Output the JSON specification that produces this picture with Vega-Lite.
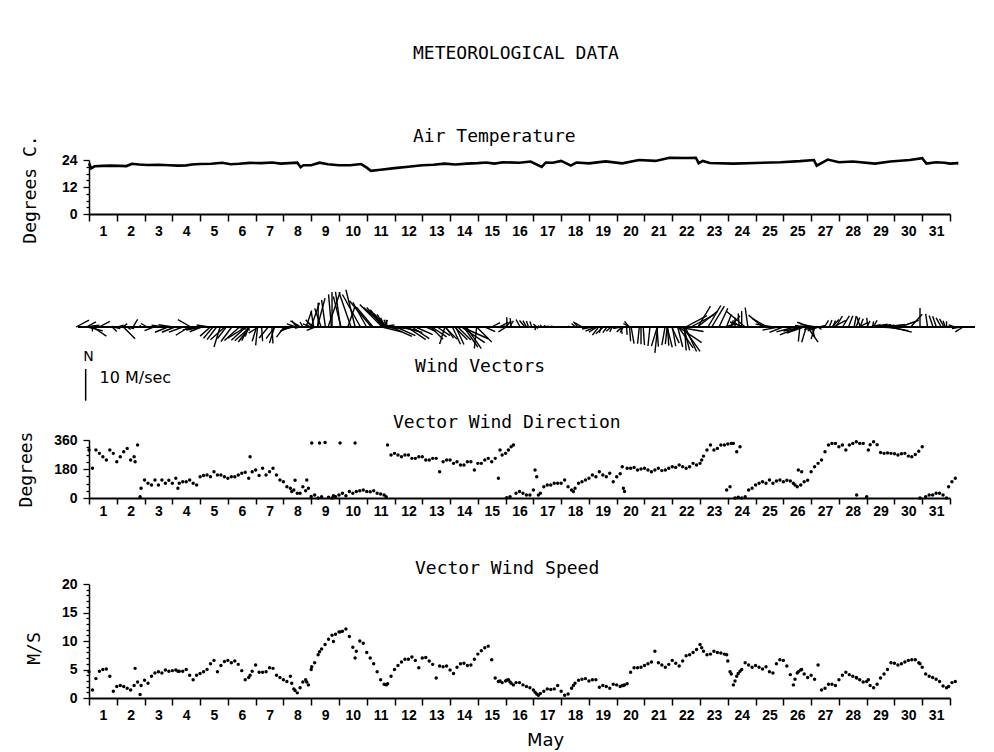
{
  "$schema": "https://vega.github.io/schema/vega-lite/v6.json",
  "background": "white",
  "padding": {"left": 17, "top": 44, "right": 10, "bottom": 2},
  "bounds": "flush",
  "spacing": 86,
  "title": {
    "text": "METEOROLOGICAL DATA",
    "anchor": "start",
    "frame": "group",
    "dx": 324,
    "offset": 65,
    "font": "DejaVu Sans Mono",
    "fontSize": 18,
    "fontWeight": "normal",
    "color": "black"
  },
  "config": {
    "view": {"stroke": null},
    "axis": {
      "grid": false,
      "domainColor": "black",
      "tickColor": "black",
      "labelColor": "black",
      "titleColor": "black",
      "labelFont": "Liberation Sans",
      "labelFontSize": 14,
      "labelFontWeight": "bold",
      "titleFont": "DejaVu Sans Mono",
      "titleFontSize": 18,
      "titleFontWeight": "normal"
    },
    "title": {"font": "DejaVu Sans Mono", "fontSize": 18, "fontWeight": "normal", "color": "black"}
  },
  "datasets": {
    "temp": [
      {"d":1.0,"t":22.5},{"d":1.08,"t":20.3},{"d":1.2,"t":21.2},{"d":1.5,"t":21.4},{"d":1.8,"t":21.5},{"d":2.1,"t":21.4},{"d":2.35,"t":21.3},{"d":2.55,"t":22.3},{"d":2.8,"t":22.0},{"d":3.1,"t":21.8},{"d":3.5,"t":21.9},{"d":3.9,"t":21.7},{"d":4.2,"t":21.5},{"d":4.5,"t":21.6},{"d":4.7,"t":22.0},{"d":5.0,"t":22.2},{"d":5.4,"t":22.3},{"d":5.8,"t":22.8},{"d":6.1,"t":22.1},{"d":6.4,"t":22.3},{"d":6.8,"t":22.7},{"d":7.2,"t":22.6},{"d":7.6,"t":22.9},{"d":7.9,"t":22.4},{"d":8.2,"t":22.6},{"d":8.5,"t":22.8},{"d":8.62,"t":20.8},{"d":8.72,"t":21.7},{"d":9.0,"t":21.7},{"d":9.3,"t":22.8},{"d":9.6,"t":22.1},{"d":10.0,"t":21.7},{"d":10.4,"t":21.7},{"d":10.8,"t":22.2},{"d":11.0,"t":20.6},{"d":11.15,"t":19.2},{"d":11.5,"t":19.7},{"d":12.0,"t":20.4},{"d":12.5,"t":21.0},{"d":13.0,"t":21.7},{"d":13.4,"t":21.9},{"d":13.8,"t":22.4},{"d":14.2,"t":22.0},{"d":14.6,"t":22.4},{"d":15.0,"t":22.6},{"d":15.3,"t":22.9},{"d":15.6,"t":22.4},{"d":15.9,"t":23.0},{"d":16.5,"t":22.8},{"d":16.9,"t":23.3},{"d":17.3,"t":20.9},{"d":17.45,"t":22.9},{"d":17.7,"t":22.8},{"d":18.0,"t":23.6},{"d":18.35,"t":21.5},{"d":18.55,"t":22.9},{"d":19.0,"t":22.5},{"d":19.6,"t":23.4},{"d":20.2,"t":22.5},{"d":20.8,"t":24.0},{"d":21.4,"t":23.6},{"d":21.9,"t":25.0},{"d":22.5,"t":24.9},{"d":22.85,"t":25.0},{"d":22.95,"t":22.6},{"d":23.1,"t":23.6},{"d":23.35,"t":22.7},{"d":24.2,"t":22.4},{"d":25.0,"t":22.7},{"d":25.9,"t":23.0},{"d":26.6,"t":23.5},{"d":27.1,"t":24.0},{"d":27.2,"t":21.5},{"d":27.6,"t":24.2},{"d":28.0,"t":23.0},{"d":28.5,"t":23.3},{"d":29.3,"t":22.4},{"d":29.85,"t":23.3},{"d":30.55,"t":24.0},{"d":31.0,"t":24.8},{"d":31.15,"t":22.4},{"d":31.5,"t":23.0},{"d":31.8,"t":22.8},{"d":32.0,"t":22.4},{"d":32.3,"t":22.6}
    ],
    "wind": [
      {"d":1.0,"a":298,"s":4.6},{"d":1.125,"a":184,"s":1.4},{"d":1.25,"a":298,"s":3.4},{"d":1.375,"a":277,"s":4.7},{"d":1.5,"a":256,"s":5.0},{"d":1.625,"a":236,"s":5.1},{"d":1.75,"a":298,"s":3.8},{"d":1.875,"a":277,"s":1.2},
      {"d":2.0,"a":225,"s":2.0},{"d":2.125,"a":256,"s":2.2},{"d":2.25,"a":287,"s":2.0},{"d":2.375,"a":308,"s":1.7},{"d":2.5,"a":236,"s":1.4},{"d":2.625,"a":256,"s":2.2},{"d":2.66,"a":225,"s":5.2},{"d":2.75,"a":329,"s":2.8},{"d":2.84,"a":8,"s":0.6},{"d":2.875,"a":60,"s":2.2},
      {"d":3.0,"a":112,"s":3.1},{"d":3.125,"a":91,"s":2.6},{"d":3.25,"a":81,"s":3.8},{"d":3.375,"a":112,"s":4.4},{"d":3.5,"a":81,"s":4.6},{"d":3.625,"a":112,"s":4.4},{"d":3.75,"a":91,"s":4.9},{"d":3.875,"a":110,"s":4.7},
      {"d":4.0,"a":91,"s":4.8},{"d":4.125,"a":122,"s":4.9},{"d":4.2,"a":60,"s":4.7},{"d":4.25,"a":91,"s":4.7},{"d":4.375,"a":101,"s":4.7},{"d":4.5,"a":101,"s":5.0},{"d":4.625,"a":112,"s":4.0},{"d":4.75,"a":91,"s":3.2},{"d":4.875,"a":81,"s":4.0},
      {"d":5.0,"a":132,"s":4.3},{"d":5.125,"a":140,"s":4.6},{"d":5.25,"a":143,"s":5.0},{"d":5.375,"a":132,"s":6.0},{"d":5.5,"a":163,"s":6.6},{"d":5.625,"a":143,"s":4.6},{"d":5.75,"a":143,"s":5.7},{"d":5.875,"a":132,"s":6.4},
      {"d":6.0,"a":122,"s":6.6},{"d":6.125,"a":132,"s":6.2},{"d":6.25,"a":132,"s":6.5},{"d":6.375,"a":143,"s":5.9},{"d":6.5,"a":153,"s":4.8},{"d":6.625,"a":160,"s":3.2},{"d":6.75,"a":122,"s":3.6},{"d":6.8,"a":256,"s":4.0},{"d":6.875,"a":163,"s":4.7},
      {"d":7.0,"a":174,"s":5.8},{"d":7.125,"a":140,"s":4.5},{"d":7.25,"a":184,"s":4.5},{"d":7.375,"a":143,"s":4.6},{"d":7.5,"a":163,"s":5.3},{"d":7.625,"a":184,"s":5.2},{"d":7.75,"a":143,"s":4.0},{"d":7.875,"a":112,"s":3.6},
      {"d":8.0,"a":101,"s":3.2},{"d":8.125,"a":70,"s":2.9},{"d":8.25,"a":60,"s":3.8},{"d":8.3,"a":40,"s":2.6},{"d":8.375,"a":50,"s":1.6},{"d":8.42,"a":110,"s":1.3},{"d":8.5,"a":29,"s":0.9},{"d":8.6,"a":29,"s":1.8},{"d":8.7,"a":70,"s":2.8},{"d":8.8,"a":45,"s":3.2},{"d":8.84,"a":112,"s":2.8},{"d":8.9,"a":60,"s":2.3},
      {"d":9.0,"a":9,"s":5.0},{"d":9.02,"a":341,"s":5.5},{"d":9.125,"a":19,"s":6.2},{"d":9.25,"a":0,"s":7.6},{"d":9.3,"a":341,"s":8.1},{"d":9.375,"a":8,"s":8.6},{"d":9.5,"a":345,"s":9.4},{"d":9.625,"a":5,"s":10.3},{"d":9.75,"a":0,"s":11.0},{"d":9.8,"a":14,"s":9.9},{"d":9.875,"a":8,"s":11.2},
      {"d":10.0,"a":19,"s":11.6},{"d":10.04,"a":341,"s":11.6},{"d":10.125,"a":29,"s":11.7},{"d":10.25,"a":14,"s":12.1},{"d":10.375,"a":40,"s":10.8},{"d":10.5,"a":29,"s":8.9},{"d":10.58,"a":341,"s":7.0},{"d":10.625,"a":40,"s":8.2},{"d":10.75,"a":45,"s":10.0},{"d":10.875,"a":50,"s":9.6},
      {"d":11.0,"a":40,"s":8.0},{"d":11.125,"a":39,"s":7.0},{"d":11.25,"a":45,"s":6.0},{"d":11.375,"a":29,"s":4.6},{"d":11.5,"a":25,"s":3.2},{"d":11.625,"a":19,"s":2.4},{"d":11.7,"a":8,"s":2.3},{"d":11.75,"a":329,"s":2.5},{"d":11.875,"a":267,"s":3.8},
      {"d":12.0,"a":277,"s":5.0},{"d":12.125,"a":267,"s":5.7},{"d":12.25,"a":256,"s":6.3},{"d":12.375,"a":267,"s":6.8},{"d":12.5,"a":267,"s":6.8},{"d":12.625,"a":246,"s":7.2},{"d":12.75,"a":246,"s":6.6},{"d":12.875,"a":256,"s":5.3},
      {"d":13.0,"a":256,"s":7.0},{"d":13.125,"a":236,"s":7.1},{"d":13.25,"a":236,"s":6.5},{"d":13.375,"a":246,"s":5.9},{"d":13.5,"a":246,"s":3.5},{"d":13.625,"a":163,"s":5.6},{"d":13.75,"a":225,"s":5.5},{"d":13.875,"a":236,"s":5.6},
      {"d":14.0,"a":236,"s":4.9},{"d":14.125,"a":215,"s":4.3},{"d":14.25,"a":225,"s":5.4},{"d":14.375,"a":205,"s":6.0},{"d":14.5,"a":205,"s":6.1},{"d":14.625,"a":225,"s":5.7},{"d":14.75,"a":225,"s":5.8},{"d":14.875,"a":174,"s":6.8},
      {"d":15.0,"a":215,"s":7.7},{"d":15.125,"a":215,"s":8.3},{"d":15.25,"a":236,"s":8.8},{"d":15.375,"a":246,"s":9.1},{"d":15.5,"a":225,"s":6.7},{"d":15.625,"a":246,"s":3.5},{"d":15.74,"a":122,"s":2.9},{"d":15.8,"a":298,"s":3.0},{"d":15.875,"a":267,"s":2.7},
      {"d":16.0,"a":277,"s":3.0},{"d":16.04,"a":2,"s":3.1},{"d":16.1,"a":298,"s":3.2},{"d":16.16,"a":8,"s":2.8},{"d":16.2,"a":318,"s":2.6},{"d":16.28,"a":329,"s":2.3},{"d":16.375,"a":29,"s":2.7},{"d":16.5,"a":40,"s":2.7},{"d":16.625,"a":29,"s":2.3},{"d":16.75,"a":19,"s":2.0},{"d":16.875,"a":19,"s":1.8},
      {"d":17.0,"a":50,"s":1.4},{"d":17.06,"a":174,"s":1.0},{"d":17.12,"a":132,"s":0.7},{"d":17.18,"a":19,"s":0.5},{"d":17.25,"a":29,"s":0.8},{"d":17.375,"a":70,"s":1.2},{"d":17.5,"a":81,"s":1.6},{"d":17.625,"a":81,"s":1.5},{"d":17.75,"a":91,"s":1.6},{"d":17.875,"a":91,"s":2.2},
      {"d":18.0,"a":91,"s":1.2},{"d":18.125,"a":112,"s":0.5},{"d":18.25,"a":70,"s":0.7},{"d":18.375,"a":50,"s":1.7},{"d":18.44,"a":40,"s":2.2},{"d":18.5,"a":60,"s":2.6},{"d":18.625,"a":91,"s":3.1},{"d":18.75,"a":101,"s":3.3},{"d":18.875,"a":112,"s":3.4},
      {"d":19.0,"a":122,"s":3.0},{"d":19.125,"a":143,"s":3.2},{"d":19.25,"a":132,"s":3.2},{"d":19.375,"a":163,"s":1.9},{"d":19.5,"a":143,"s":2.2},{"d":19.625,"a":132,"s":2.0},{"d":19.75,"a":153,"s":1.7},{"d":19.875,"a":101,"s":2.4},
      {"d":20.0,"a":132,"s":2.3},{"d":20.125,"a":150,"s":2.0},{"d":20.2,"a":194,"s":2.2},{"d":20.24,"a":60,"s":2.2},{"d":20.28,"a":40,"s":2.3},{"d":20.375,"a":184,"s":2.5},{"d":20.5,"a":184,"s":4.5},{"d":20.625,"a":190,"s":5.3},{"d":20.75,"a":174,"s":5.3},{"d":20.875,"a":180,"s":5.4},
      {"d":21.0,"a":184,"s":5.7},{"d":21.125,"a":174,"s":6.0},{"d":21.25,"a":163,"s":6.3},{"d":21.375,"a":174,"s":8.2},{"d":21.5,"a":184,"s":6.2},{"d":21.625,"a":170,"s":5.8},{"d":21.75,"a":174,"s":5.4},{"d":21.875,"a":184,"s":5.9},
      {"d":22.0,"a":194,"s":6.6},{"d":22.125,"a":190,"s":6.1},{"d":22.25,"a":205,"s":5.6},{"d":22.375,"a":194,"s":6.5},{"d":22.5,"a":184,"s":7.4},{"d":22.625,"a":194,"s":7.6},{"d":22.75,"a":215,"s":8.0},{"d":22.875,"a":205,"s":8.5},
      {"d":23.0,"a":215,"s":9.4},{"d":23.06,"a":236,"s":8.8},{"d":23.125,"a":260,"s":8.2},{"d":23.25,"a":298,"s":7.6},{"d":23.375,"a":329,"s":7.7},{"d":23.5,"a":298,"s":8.2},{"d":23.625,"a":308,"s":8.0},{"d":23.75,"a":329,"s":7.9},{"d":23.875,"a":329,"s":7.7},{"d":23.96,"a":50,"s":7.6},
      {"d":24.0,"a":335,"s":6.5},{"d":24.08,"a":70,"s":4.6},{"d":24.125,"a":339,"s":4.2},{"d":24.2,"a":339,"s":2.3},{"d":24.26,"a":0,"s":3.0},{"d":24.32,"a":287,"s":3.8},{"d":24.375,"a":4,"s":4.3},{"d":24.44,"a":318,"s":4.7},{"d":24.5,"a":0,"s":5.0},{"d":24.625,"a":8,"s":6.2},{"d":24.75,"a":50,"s":5.8},{"d":24.875,"a":60,"s":5.4},
      {"d":25.0,"a":81,"s":5.7},{"d":25.125,"a":91,"s":5.4},{"d":25.25,"a":101,"s":5.1},{"d":25.375,"a":91,"s":5.5},{"d":25.5,"a":112,"s":4.6},{"d":25.625,"a":91,"s":4.4},{"d":25.75,"a":105,"s":6.0},{"d":25.875,"a":112,"s":6.7},
      {"d":26.0,"a":101,"s":6.6},{"d":26.125,"a":110,"s":5.6},{"d":26.25,"a":105,"s":4.1},{"d":26.36,"a":91,"s":2.3},{"d":26.42,"a":81,"s":3.3},{"d":26.5,"a":70,"s":4.4},{"d":26.54,"a":174,"s":4.6},{"d":26.625,"a":81,"s":4.9},{"d":26.66,"a":163,"s":5.0},{"d":26.75,"a":101,"s":4.2},{"d":26.875,"a":110,"s":3.6},
      {"d":27.0,"a":163,"s":4.0},{"d":27.125,"a":194,"s":3.3},{"d":27.25,"a":215,"s":5.8},{"d":27.375,"a":236,"s":1.4},{"d":27.5,"a":287,"s":1.7},{"d":27.625,"a":329,"s":2.4},{"d":27.75,"a":339,"s":2.4},{"d":27.875,"a":339,"s":2.2},
      {"d":28.0,"a":318,"s":3.2},{"d":28.125,"a":329,"s":4.0},{"d":28.25,"a":298,"s":4.5},{"d":28.375,"a":329,"s":4.1},{"d":28.5,"a":339,"s":3.8},{"d":28.625,"a":349,"s":3.6},{"d":28.64,"a":19,"s":3.5},{"d":28.75,"a":339,"s":3.2},{"d":28.875,"a":339,"s":2.8},
      {"d":29.0,"a":8,"s":2.9},{"d":29.06,"a":298,"s":3.2},{"d":29.125,"a":330,"s":2.2},{"d":29.25,"a":349,"s":1.8},{"d":29.375,"a":330,"s":2.4},{"d":29.5,"a":282,"s":3.5},{"d":29.625,"a":277,"s":4.2},{"d":29.75,"a":280,"s":5.0},{"d":29.875,"a":277,"s":6.2},
      {"d":30.0,"a":275,"s":6.1},{"d":30.125,"a":267,"s":5.8},{"d":30.25,"a":275,"s":6.0},{"d":30.375,"a":277,"s":6.3},{"d":30.5,"a":260,"s":6.6},{"d":30.625,"a":256,"s":6.7},{"d":30.75,"a":270,"s":6.7},{"d":30.875,"a":290,"s":6.2},{"d":30.92,"a":0,"s":6.0},
      {"d":31.0,"a":318,"s":5.4},{"d":31.125,"a":8,"s":4.2},{"d":31.25,"a":19,"s":3.8},{"d":31.375,"a":19,"s":3.6},{"d":31.5,"a":29,"s":3.3},{"d":31.625,"a":29,"s":2.9},{"d":31.75,"a":19,"s":2.1},{"d":31.875,"a":0,"s":1.8},
      {"d":31.95,"a":70,"s":2.0},{"d":32.07,"a":101,"s":2.7},{"d":32.19,"a":122,"s":2.9}
    ]
  },
  "vconcat": [
    {
      "width": 861,
      "height": 54,
      "title": {"text": "Air Temperature", "anchor": "start", "frame": "group", "dx": 324, "offset": -11},
      "data": {"name": "temp"},
      "mark": {"type": "line", "color": "black", "strokeWidth": 2.6},
      "encoding": {
        "x": {
          "field": "d", "type": "quantitative",
          "scale": {"domain": [1, 32], "nice": false, "zero": false},
          "axis": {
            "title": null,
            "values": [1,2,3,4,5,6,7,8,9,10,11,12,13,14,15,16,17,18,19,20,21,22,23,24,25,26,27,28,29,30,31,32],
            "format": "d",
            "labelExpr": "datum.value > 31 ? '' : (datum.value == 26 ? '25' : datum.label)",
            "labelOffset": 13.9,
            "labelOverlap": false,
            "labelFlush": false,
            "labelBound": false,
            "tickSize": 7,
            "tickWidth": 1.5,
            "domainWidth": 2,
            "labelPadding": 3
          }
        },
        "y": {
          "field": "t", "type": "quantitative",
          "scale": {"domain": [0, 24], "nice": false},
          "axis": {
            "title": "Degrees C.",
            "values": [0,3,6,9,12,15,18,21,24],
            "labelExpr": "datum.value % 12 === 0 ? datum.label : ''",
            "tickSize": {"condition": {"test": "datum.value % 12 === 0", "value": 6}, "value": 3},
            "tickWidth": 1.3,
            "domainWidth": 1.5,
            "labelPadding": 6,
            "titleX": -59,
            "titleY": 29,
            "titleAngle": -90,
            "titleAlign": "center",
            "titleBaseline": "middle"
          }
        }
      }
    },
    {
      "width": 861,
      "height": 54,
      "layer": [
        {
          "data": {"name": "wind"},
          "transform": [
            {"calculate": "datum.d + 0.1145 * datum.s * sin(datum.a * PI / 180)", "as": "e"},
            {"calculate": "datum.s * cos(datum.a * PI / 180)", "as": "v"}
          ],
          "mark": {"type": "rule", "color": "black", "strokeWidth": 1.4},
          "encoding": {
            "x": {"field": "d", "type": "quantitative", "scale": {"domain": [1, 32], "nice": false, "zero": false}, "axis": null},
            "x2": {"field": "e"},
            "y": {"field": "v", "type": "quantitative", "scale": {"domain": [-8.5, 8.5], "nice": false}, "axis": null},
            "y2": {"datum": 0}
          }
        },
        {
          "data": {"values": [{}]},
          "mark": {"type": "rule", "color": "black", "strokeWidth": 2},
          "encoding": {
            "x": {"datum": 0.6, "type": "quantitative"},
            "x2": {"datum": 32.9},
            "y": {"datum": 0, "type": "quantitative"}
          }
        },
        {
          "data": {"values": [{}]},
          "mark": {"type": "rule", "color": "black", "strokeWidth": 1.5},
          "encoding": {
            "x": {"datum": 0.88, "type": "quantitative"},
            "y": {"datum": -13.2, "type": "quantitative"},
            "y2": {"datum": -23.2}
          }
        },
        {
          "data": {"values": [{}]},
          "mark": {"type": "text", "text": "N", "font": "DejaVu Sans", "fontSize": 14, "color": "black", "align": "center", "baseline": "middle"},
          "encoding": {
            "x": {"datum": 0.98, "type": "quantitative"},
            "y": {"datum": -9.4, "type": "quantitative"}
          }
        },
        {
          "data": {"values": [{}]},
          "mark": {"type": "text", "text": "10 M/sec", "font": "DejaVu Sans", "fontSize": 16, "color": "black", "align": "left", "baseline": "middle"},
          "encoding": {
            "x": {"datum": 1.38, "type": "quantitative"},
            "y": {"datum": -16, "type": "quantitative"}
          }
        },
        {
          "data": {"values": [{}]},
          "mark": {"type": "text", "text": "Wind Vectors", "font": "DejaVu Sans Mono", "fontSize": 18, "color": "black", "align": "left", "baseline": "middle"},
          "encoding": {
            "x": {"datum": 12.74, "type": "quantitative"},
            "y": {"datum": -12.6, "type": "quantitative"}
          }
        }
      ]
    },
    {
      "width": 861,
      "height": 58,
      "title": {"text": "Vector Wind Direction", "anchor": "start", "frame": "group", "dx": 304, "offset": -1},
      "data": {"name": "wind"},
      "mark": {"type": "circle", "color": "black", "size": 12, "opacity": 1},
      "encoding": {
        "x": {
          "field": "d", "type": "quantitative",
          "scale": {"domain": [1, 32], "nice": false, "zero": false},
          "axis": {
            "title": null,
            "values": [1,2,3,4,5,6,7,8,9,10,11,12,13,14,15,16,17,18,19,20,21,22,23,24,25,26,27,28,29,30,31,32],
            "format": "d",
            "labelExpr": "datum.value > 31 ? '' : datum.label",
            "labelOffset": 13.9,
            "labelOverlap": false,
            "labelFlush": false,
            "labelBound": false,
            "tickSize": 6,
            "tickWidth": 1.5,
            "domainWidth": 2,
            "labelPadding": 0
          }
        },
        "y": {
          "field": "a", "type": "quantitative",
          "scale": {"domain": [0, 360], "nice": false},
          "axis": {
            "title": "Degrees",
            "values": [0,45,90,135,180,225,270,315,360],
            "labelExpr": "datum.value % 180 === 0 ? datum.label : ''",
            "tickSize": {"condition": {"test": "datum.value % 180 === 0", "value": 6}, "value": 3},
            "tickWidth": 1.3,
            "domainWidth": 1.5,
            "labelPadding": 6,
            "titleX": -63,
            "titleY": 29,
            "titleAngle": -90,
            "titleAlign": "center",
            "titleBaseline": "middle"
          }
        }
      }
    },
    {
      "width": 861,
      "height": 114,
      "title": {"text": "Vector Wind Speed", "anchor": "start", "frame": "group", "dx": 326, "offset": -1},
      "data": {"name": "wind"},
      "mark": {"type": "circle", "color": "black", "size": 12, "opacity": 1},
      "encoding": {
        "x": {
          "field": "d", "type": "quantitative",
          "scale": {"domain": [1, 32], "nice": false, "zero": false},
          "axis": {
            "title": "May",
            "titleFont": "DejaVu Sans",
            "titleFontSize": 18,
            "titleX": 456,
            "titleY": 42,
            "titleAlign": "center",
            "titleBaseline": "middle",
            "values": [1,2,3,4,5,6,7,8,9,10,11,12,13,14,15,16,17,18,19,20,21,22,23,24,25,26,27,28,29,30,31,32],
            "format": "d",
            "labelExpr": "datum.value > 31 ? '' : datum.label",
            "labelOffset": 13.9,
            "labelOverlap": false,
            "labelFlush": false,
            "labelBound": false,
            "tickSize": 7,
            "tickWidth": 1.5,
            "domainWidth": 2,
            "labelPadding": 3
          }
        },
        "y": {
          "field": "s", "type": "quantitative",
          "scale": {"domain": [0, 20], "nice": false},
          "axis": {
            "title": "M/S",
            "values": [0,1,2,3,4,5,6,7,8,9,10,11,12,13,14,15,16,17,18,19,20],
            "labelExpr": "datum.value % 5 === 0 ? datum.label : ''",
            "tickSize": {"condition": {"test": "datum.value % 5 === 0", "value": 6}, "value": 3},
            "tickWidth": 1.3,
            "domainWidth": 1.5,
            "labelPadding": 6,
            "titleX": -55,
            "titleY": 64,
            "titleAngle": -90,
            "titleAlign": "center",
            "titleBaseline": "middle"
          }
        }
      }
    }
  ]
}
